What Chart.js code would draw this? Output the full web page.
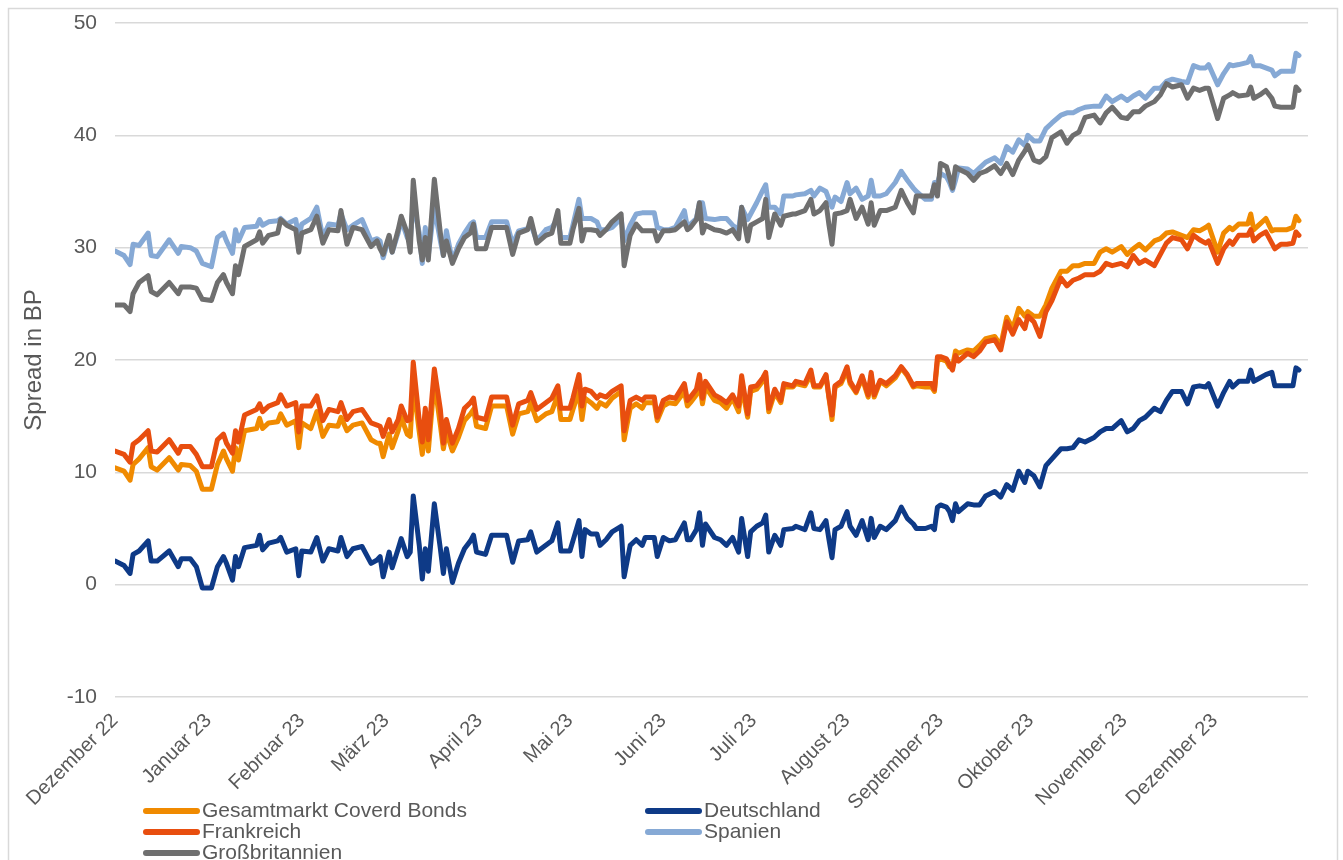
<!DOCTYPE html>
<html lang="de">
<head>
<meta charset="utf-8">
<title>Spreads Covered Bonds 2023</title>
<script src="https://cdn.jsdelivr.net/npm/chart.js@4.4.1/dist/chart.umd.min.js"></script>
<style>
  html, body { margin: 0; padding: 0; background: #ffffff; }
  #chart { display: block; }
</style>
</head>
<body>
<canvas id="chart" width="1343" height="860"></canvas>
<script>
// Days since 1 December 2022 for each observation
const dayOffsets = [
  0, 3, 5, 6, 8, 11, 12, 14, 18, 21, 22, 25, 27, 29, 32, 34, 36, 37, 39, 40,
  41, 43, 47, 48, 49, 51, 54, 55, 57, 60, 61, 62, 65, 67, 69, 71, 74, 75, 77, 79,
  82, 85, 87, 88, 89, 91, 92, 94, 95, 97, 98, 99, 101, 102, 103, 104, 106, 108, 109, 110,
  112, 114, 116, 118, 119, 120, 123, 125, 130, 132, 134, 137, 138, 140, 143, 145, 147, 148, 151, 152,
  154, 155, 156, 158, 160, 161, 163, 165, 168, 169, 171, 173, 175, 176, 179, 180, 182, 184, 186, 189,
  190, 191, 193, 194, 195, 196, 199, 201, 203, 205, 207, 208, 210, 211, 213, 215, 216, 217, 219, 221,
  222, 225, 226, 229, 231, 232, 234, 236, 237, 238, 239, 241, 243, 244, 246, 248, 250, 251, 252, 254,
  256, 259, 261, 263, 265, 266, 269, 271, 272, 273, 274, 276, 277, 278, 279, 280, 283, 285, 287, 289,
  292, 294, 296, 298, 300, 302, 303, 305, 307, 309, 311, 314, 316, 318, 320, 322, 325, 327, 329, 331,
  334, 336, 338, 340, 342, 345, 347, 349, 351, 354, 356, 358, 360, 362, 363, 366, 368, 370, 371, 373,
  376, 377, 378, 380, 382, 384, 385, 387, 389, 391, 392, 393
];

// Spread in basis points
const gesamtmarkt = [
  10.4, 10.1, 9.3, 10.7, 11.2, 12.2, 10.5, 10.2, 11.3, 10.2, 10.7, 10.6, 10.1, 8.5, 8.5, 10.7, 11.9, 11.2, 10.1, 12.2,
  11.1, 13.7, 13.9, 14.8, 13.9, 14.4, 14.5, 15.2, 14.2, 14.6, 12.2, 14.4, 13.9, 15.4, 13.2, 14.2, 14.1, 14.9, 13.7, 14.2,
  14.4, 12.9, 12.6, 12.6, 11.4, 13.4, 12.2, 13.7, 14.9, 13.4, 13.2, 17.9, 13.6, 11.6, 14.2, 11.9, 18.1, 14.2, 12.1, 13.6,
  11.9, 13.1, 14.6, 15.2, 15.6, 14.1, 13.9, 15.9, 15.9, 13.4, 15.2, 15.4, 16.2, 14.6, 15.2, 15.4, 16.9, 14.7, 14.7, 15.6,
  17.2, 14.7, 16.6, 16.2, 15.7, 16.2, 15.9, 16.6, 17.2, 12.9, 15.7, 16.1, 15.7, 16.2, 16.2, 14.6, 15.9, 16.2, 16.1, 17.2,
  15.9, 16.2, 16.9, 18.1, 16.1, 17.6, 16.4, 16.2, 15.7, 16.6, 15.4, 17.7, 14.9, 17.2, 17.4, 18.1, 18.6, 15.4, 17.1, 16.2,
  17.6, 17.6, 17.9, 17.7, 18.7, 17.6, 17.6, 18.6, 16.6, 14.7, 17.6, 17.9, 19.1, 17.9, 17.1, 18.4, 16.7, 18.6, 16.7, 18.1,
  17.7, 18.4, 19.3, 18.6, 17.6, 17.7, 17.6, 17.6, 17.2, 19.9, 20.1, 19.9, 19.4, 19.4, 20.8, 20.6, 20.9, 20.8, 21.3, 21.9,
  22.1, 21.3, 23.8, 22.8, 24.6, 23.9, 24.3, 23.9, 23.9, 24.9, 26.4, 27.9, 27.9, 28.4, 28.4, 28.6, 28.6, 29.6, 29.9, 29.6,
  30.1, 29.4, 29.9, 30.3, 29.8, 30.6, 30.8, 31.3, 31.4, 31.1, 30.9, 31.6, 31.5, 31.8, 32.0, 29.6, 31.3, 31.8, 31.6, 32.1,
  32.1, 33.0, 31.6, 32.1, 32.6, 31.5, 31.6, 31.6, 31.6, 31.8, 32.8, 32.4
];

const deutschland = [
  2.1, 1.7, 1.0, 2.7, 3.0, 3.9, 2.1, 2.1, 3.0, 1.6, 2.3, 2.3, 1.6, -0.3, -0.3, 1.6, 2.5, 1.9, 0.4, 2.5,
  1.6, 3.3, 3.5, 4.4, 3.1, 3.7, 3.9, 4.2, 2.9, 3.2, 0.8, 3.0, 2.9, 4.2, 2.1, 3.2, 3.0, 4.2, 2.5, 3.2,
  3.4, 1.9, 2.2, 2.5, 0.7, 2.9, 1.5, 3.2, 4.1, 2.5, 2.9, 7.9, 3.5, 0.5, 3.2, 1.2, 7.2, 3.2, 1.0, 3.2,
  0.2, 1.9, 3.2, 3.9, 4.4, 2.9, 2.7, 4.4, 4.4, 2.0, 3.9, 4.0, 4.7, 2.9, 3.5, 3.9, 5.5, 3.0, 3.0, 3.9,
  5.7, 2.5, 4.9, 4.5, 4.5, 3.5, 4.0, 4.7, 5.2, 0.7, 3.5, 4.0, 3.5, 4.2, 4.2, 2.5, 4.2, 3.9, 4.0, 5.5,
  4.0, 4.0, 4.9, 6.4, 3.5, 5.4, 4.2, 4.0, 3.5, 4.2, 2.9, 5.9, 2.5, 4.7, 5.2, 5.5, 6.2, 2.9, 4.4, 3.5,
  4.9, 5.0, 5.2, 4.9, 6.4, 5.0, 4.9, 5.7, 4.0, 2.4, 4.9, 5.2, 6.5, 5.2, 4.4, 5.7, 4.0, 5.9, 4.2, 5.2,
  4.9, 5.7, 6.9, 5.9, 5.4, 5.0, 5.0, 5.2, 4.9, 6.9, 7.1, 6.9, 6.5, 5.7, 7.2, 6.5, 7.2, 7.1, 7.1, 7.9,
  8.3, 7.8, 8.9, 8.4, 10.1, 9.1, 10.1, 9.7, 8.7, 10.6, 11.2, 12.1, 12.1, 12.2, 12.9, 12.7, 13.1, 13.6, 13.9, 13.9,
  14.6, 13.6, 13.9, 14.6, 14.9, 15.7, 15.4, 16.4, 17.2, 17.2, 16.1, 17.6, 17.7, 17.6, 17.9, 15.9, 17.1, 18.1, 17.6, 18.1,
  18.1, 19.1, 18.1, 18.4, 18.7, 18.9, 17.7, 17.7, 17.7, 17.7, 19.3, 19.1
];

const frankreich = [
  11.9, 11.6, 10.9, 12.5, 12.9, 13.7, 11.9, 11.8, 12.9, 11.7, 12.3, 12.3, 11.6, 10.5, 10.5, 12.9, 13.4, 12.6, 11.7, 13.7,
  12.7, 15.1, 15.6, 16.1, 15.4, 15.9, 16.2, 16.9, 15.9, 16.2, 13.6, 15.9, 15.9, 16.8, 14.6, 15.6, 15.4, 16.2, 14.7, 15.4,
  15.6, 14.4, 14.2, 14.1, 13.2, 14.7, 13.6, 14.7, 15.9, 14.6, 14.7, 19.8, 14.6, 12.7, 15.7, 12.9, 19.2, 15.6, 12.6, 14.7,
  12.6, 13.9, 15.7, 16.2, 16.6, 14.9, 14.7, 16.7, 16.7, 14.2, 16.1, 16.4, 17.1, 15.6, 16.2, 16.6, 17.7, 15.7, 15.7, 16.6,
  18.7, 15.9, 17.4, 17.2, 16.6, 16.9, 16.7, 17.2, 17.7, 13.7, 16.4, 16.7, 16.4, 16.7, 16.7, 14.9, 16.4, 16.7, 16.6, 17.9,
  16.4, 16.7, 17.4, 18.7, 16.6, 18.1, 16.9, 16.6, 16.2, 16.9, 15.9, 18.6, 15.2, 17.6, 17.7, 18.4, 18.9, 15.7, 17.4, 16.4,
  17.9, 17.7, 18.1, 17.9, 19.1, 17.7, 17.7, 18.7, 16.7, 15.1, 17.7, 18.1, 19.4, 18.1, 17.2, 18.6, 16.9, 18.9, 16.9, 18.2,
  17.9, 18.6, 19.4, 18.7, 17.7, 17.9, 17.9, 17.9, 17.4, 20.3, 20.3, 20.1, 19.6, 19.1, 20.4, 19.9, 20.6, 20.3, 20.8, 21.6,
  21.8, 20.9, 23.4, 22.3, 23.6, 22.8, 23.9, 23.4, 22.1, 24.3, 25.3, 27.3, 26.6, 27.1, 27.3, 27.6, 27.6, 27.9, 28.6, 28.4,
  28.6, 28.3, 29.3, 28.6, 28.9, 28.4, 29.4, 30.4, 30.9, 30.7, 29.9, 31.1, 30.7, 30.4, 30.6, 28.6, 29.9, 30.6, 30.3, 31.1,
  31.1, 31.6, 30.6, 31.1, 31.4, 30.4, 29.9, 30.3, 30.3, 30.4, 31.4, 31.1
];

const spanien = [
  29.7, 29.3, 28.5, 30.3, 30.2, 31.3, 29.3, 29.2, 30.7, 29.5, 30.1, 30.0, 29.7, 28.6, 28.3, 30.9, 31.3, 30.6, 29.5, 31.6,
  30.6, 31.8, 31.9, 32.5, 32.0, 32.3, 32.4, 32.6, 32.1, 32.5, 30.9, 32.1, 32.6, 33.6, 30.9, 32.1, 32.0, 33.0, 31.6, 32.0,
  32.5, 30.6, 30.8, 30.6, 29.1, 30.9, 29.6, 31.3, 32.5, 30.9, 30.6, 34.0, 31.3, 28.6, 31.8, 29.3, 33.6, 30.6, 29.3, 31.5,
  28.8, 30.3, 31.3, 32.1, 32.3, 30.9, 30.9, 32.3, 32.3, 30.3, 31.5, 31.7, 32.1, 30.6, 31.6, 31.8, 32.6, 30.9, 30.9, 32.0,
  34.3, 32.6, 32.6, 32.6, 32.3, 31.6, 31.6, 31.8, 32.6, 30.6, 32.0, 33.0, 33.1, 33.1, 33.1, 31.8, 31.6, 31.6, 31.8, 33.3,
  31.8, 32.1, 32.6, 34.0, 34.0, 32.6, 32.5, 32.6, 32.6, 32.0, 31.6, 33.6, 32.5, 33.0, 34.0, 35.1, 35.6, 33.6, 33.6, 33.0,
  34.6, 34.6, 34.7, 34.8, 35.1, 34.6, 35.3, 35.0, 34.3, 33.6, 34.5, 34.1, 35.8, 34.8, 35.3, 34.3, 34.6, 36.0, 34.6, 34.6,
  34.8, 35.8, 36.8, 36.0, 35.3, 35.0, 34.3, 34.3, 35.8, 35.8, 36.6, 36.3, 35.8, 35.1, 36.0, 37.1, 37.0, 36.6, 37.1, 37.6,
  38.0, 37.5, 39.0, 38.5, 39.6, 39.1, 40.0, 39.5, 39.5, 40.6, 41.1, 41.8, 42.0, 42.0, 42.3, 42.5, 42.6, 42.6, 43.5, 43.0,
  43.5, 43.1, 43.5, 43.8, 43.3, 44.2, 44.2, 44.8, 45.0, 44.8, 44.7, 46.2, 46.0, 46.0, 46.3, 44.5, 45.5, 46.3, 46.2, 46.3,
  46.5, 47.0, 46.2, 46.2, 46.0, 45.8, 45.3, 45.7, 45.7, 45.7, 47.3, 47.1
];

const grossbritannien = [
  24.9, 24.9, 24.3, 25.9, 26.9, 27.5, 26.1, 25.8, 26.9, 25.9, 26.5, 26.5, 26.4, 25.4, 25.3, 26.9, 27.6, 26.9, 25.9, 28.4,
  27.6, 30.1, 30.7, 31.4, 30.4, 31.1, 31.3, 32.5, 32.0, 31.6, 29.6, 31.3, 31.6, 32.8, 30.4, 31.6, 31.5, 33.3, 30.3, 31.8,
  31.6, 30.1, 30.6, 29.9, 29.4, 31.1, 29.6, 31.6, 32.8, 31.3, 29.6, 36.0, 30.6, 28.9, 30.9, 28.9, 36.1, 31.3, 29.3, 30.6,
  28.6, 29.9, 30.9, 31.3, 32.1, 29.9, 29.9, 31.8, 31.8, 29.4, 31.3, 31.6, 32.6, 30.4, 31.1, 31.3, 33.3, 30.4, 30.4, 31.6,
  33.5, 30.6, 31.6, 31.6, 31.5, 31.1, 31.6, 32.3, 33.0, 28.4, 31.1, 32.1, 31.5, 31.5, 31.5, 30.6, 31.5, 31.5, 31.6, 32.3,
  31.6, 31.8, 32.5, 34.0, 31.3, 32.0, 31.6, 31.5, 31.3, 31.6, 30.8, 33.6, 30.6, 32.0, 32.3, 32.6, 34.3, 30.9, 33.0, 32.0,
  32.8, 33.0, 33.0, 33.3, 34.3, 33.0, 33.3, 34.0, 32.0, 30.3, 33.0, 33.1, 33.3, 34.3, 32.6, 33.6, 32.1, 34.0, 32.0, 33.3,
  33.3, 33.6, 35.1, 34.0, 33.1, 34.6, 34.6, 34.6, 35.6, 34.6, 37.5, 37.2, 36.3, 35.3, 37.2, 37.0, 36.6, 36.0, 36.6, 36.8,
  37.3, 36.6, 37.5, 36.5, 37.8, 38.6, 39.1, 37.8, 37.6, 38.1, 39.8, 40.3, 39.3, 40.0, 40.3, 41.6, 41.8, 41.1, 42.0, 42.5,
  41.6, 41.5, 42.1, 42.1, 42.6, 43.0, 43.6, 44.6, 44.3, 44.5, 43.3, 44.2, 44.0, 44.2, 44.2, 41.5, 43.3, 43.6, 43.8, 43.5,
  43.6, 44.3, 43.3, 43.6, 44.0, 43.3, 42.6, 42.5, 42.5, 42.5, 44.3, 44.0
];

// Month starts on the time axis (days since 1 December 2022) and their labels
const monthTickDays = [0, 31, 62, 90, 121, 151, 182, 212, 243, 274, 304, 335, 365];
const monthTickLabels = [
  'Dezember 22', 'Januar 23', 'Februar 23', 'März 23', 'April 23', 'Mai 23', 'Juni 23',
  'Juli 23', 'August 23', 'September 23', 'Oktober 23', 'November 23', 'Dezember 23'
];

const yTicks = [-10, 0, 10, 20, 30, 40, 50];

const FONT = '"Liberation Sans", Arial, Helvetica, sans-serif';
const TEXT_COLOR = '#595959';
const GRID_COLOR = '#d9d9d9';

function points(values) {
  return dayOffsets.map((d, i) => ({ x: d, y: values[i] }));
}

function lineStyle(color, order) {
  return {
    borderColor: color,
    backgroundColor: color,
    borderWidth: 5,
    borderJoinStyle: 'round',
    borderCapStyle: 'round',
    pointRadius: 0,
    pointHoverRadius: 0,
    tension: 0,
    fill: false,
    order: order
  };
}

// White background and the thin frame round the whole chart
const framePlugin = {
  id: 'frame',
  beforeDraw(chart) {
    const ctx = chart.ctx;
    ctx.save();
    ctx.fillStyle = '#ffffff';
    ctx.fillRect(0, 0, chart.width, chart.height);
    ctx.strokeStyle = GRID_COLOR;
    ctx.lineWidth = 1.5;
    ctx.strokeRect(8.5, 8.5, chart.width - 14, chart.height + 20);
    ctx.restore();
  }
};

// Two-column legend below the axis labels
const gridLegendPlugin = {
  id: 'gridLegend',
  afterDraw(chart) {
    const ctx = chart.ctx;
    const colX = [143, 645];
    const rowY = [811, 832, 853];
    ctx.save();
    ctx.font = '21px ' + FONT;
    ctx.textBaseline = 'middle';
    ctx.textAlign = 'left';
    chart.data.datasets.forEach((ds, i) => {
      const x = colX[i % 2];
      const y = rowY[Math.floor(i / 2)];
      ctx.strokeStyle = ds.borderColor;
      ctx.lineWidth = 6;
      ctx.lineCap = 'round';
      ctx.beginPath();
      ctx.moveTo(x + 3, y);
      ctx.lineTo(x + 54, y);
      ctx.stroke();
      ctx.fillStyle = TEXT_COLOR;
      ctx.fillText(ds.label, x + 59, y);
    });
    ctx.restore();
  }
};

new Chart(document.getElementById('chart'), {
  type: 'line',
  data: {
    datasets: [
      Object.assign({ label: 'Gesamtmarkt Coverd Bonds', data: points(gesamtmarkt) }, lineStyle('#f08a00', 5)),
      Object.assign({ label: 'Deutschland', data: points(deutschland) }, lineStyle('#0e3a87', 4)),
      Object.assign({ label: 'Frankreich', data: points(frankreich) }, lineStyle('#e84e0f', 3)),
      Object.assign({ label: 'Spanien', data: points(spanien) }, lineStyle('#86a9d5', 2)),
      Object.assign({ label: 'Großbritannien', data: points(grossbritannien) }, lineStyle('#6f6f6f', 1))
    ]
  },
  options: {
    responsive: false,
    animation: false,
    devicePixelRatio: 1,
    layout: { padding: { left: 0, right: 35, top: 23, bottom: 0 } },
    plugins: {
      legend: { display: false },
      tooltip: { enabled: false }
    },
    scales: {
      x: {
        type: 'linear',
        min: 0,
        max: 396,
        afterBuildTicks(scale) {
          scale.ticks = monthTickDays.map(v => ({ value: v }));
        },
        afterFit(scale) { scale.height = 163; },
        grid: { display: false, drawTicks: false },
        border: { display: false },
        ticks: {
          autoSkip: false,
          minRotation: 45,
          maxRotation: 45,
          padding: 12,
          color: TEXT_COLOR,
          font: { family: FONT, size: 20 },
          callback: (value, index) => monthTickLabels[index]
        }
      },
      y: {
        min: -10,
        max: 50,
        afterBuildTicks(scale) {
          scale.ticks = yTicks.map(v => ({ value: v }));
        },
        afterFit(scale) { scale.width = 115; },
        grid: {
          color: GRID_COLOR,
          lineWidth: 1.5,
          drawTicks: true,
          tickLength: 18,
          tickColor: 'rgba(0,0,0,0)'
        },
        border: { display: false },
        ticks: {
          padding: 0,
          color: TEXT_COLOR,
          font: { family: FONT, size: 21 }
        },
        title: {
          display: true,
          text: 'Spread in BP',
          color: TEXT_COLOR,
          font: { family: FONT, size: 24 },
          padding: { top: 20, bottom: 0 }
        }
      }
    }
  },
  plugins: [framePlugin, gridLegendPlugin]
});
</script>
</body>
</html>
